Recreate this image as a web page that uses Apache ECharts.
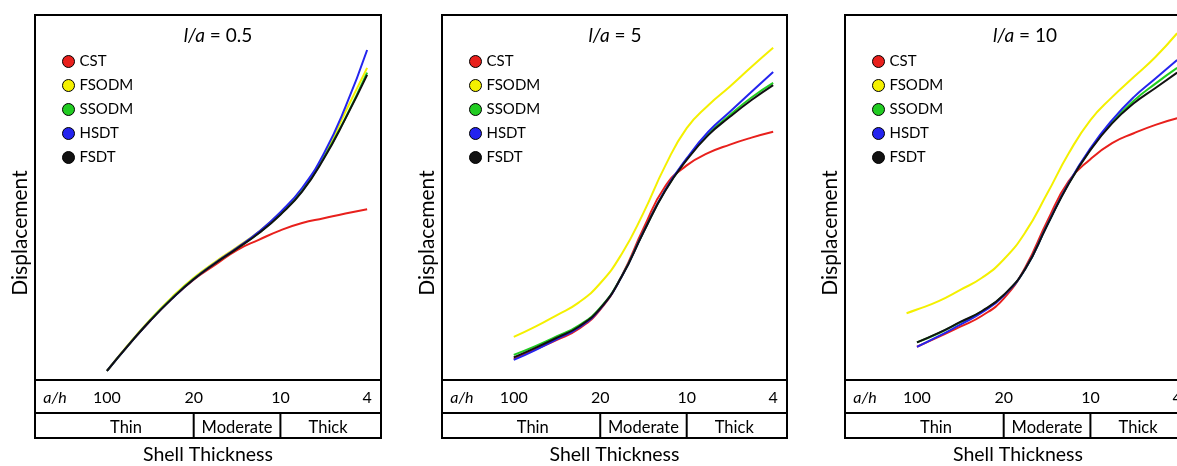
<!DOCTYPE html>
<html>
<head>
<meta charset="utf-8">
<script src="https://cdn.jsdelivr.net/npm/echarts@6/dist/echarts.min.js"></script>
<style>
  html, body { margin: 0; padding: 0; background: #fff; overflow: hidden; }
  #chart { width: 1200px; height: 466px; }
</style>
</head>
<body>
<div id="chart"></div>
<script>
// a/h tick labels, evenly spaced along the thickness axis
const ahTicks = ["100", "20", "10", "4"];
const thicknessClasses = ["Thin", "Moderate", "Thick"];
const classPos = [0.22, 1.5, 2.55];
const methods = ["CST", "FSODM", "SSODM", "HSDT", "FSDT"];
const ratios = ["0.5", "5", "10"];
const xSteps = [0, 0.25, 0.5, 0.75, 1, 1.25, 1.5, 1.75, 2, 2.25, 2.5, 2.75, 3];
const xStepsLong = [-0.12, 0, 0.25, 0.5, 0.75, 1, 1.25, 1.5, 1.75, 2, 2.25, 2.5, 2.75, 3];

// l/a = 0.5
const cst05   = [2.5, 9.6, 16.3, 22.3, 27.5, 31.6, 35.6, 38.4, 41.0, 43.0, 44.3, 45.6, 46.8];
const fsodm05 = [2.5, 9.8, 16.6, 22.7, 28.0, 32.4, 36.4, 40.6, 45.8, 52.2, 61.3, 73.5, 85.5];
const ssodm05 = [2.5, 9.6, 16.4, 22.4, 27.7, 32.1, 36.1, 40.3, 45.4, 51.8, 60.9, 71.8, 84.2];
const hsdt05  = [2.5, 9.6, 16.3, 22.3, 27.6, 32.1, 36.2, 40.6, 46.0, 52.6, 62.0, 74.8, 90.4];
const fsdt05  = [2.5, 9.6, 16.3, 22.3, 27.6, 32.0, 36.0, 40.2, 45.3, 51.6, 60.6, 71.6, 83.6];

// l/a = 5
const cst5   = [5.8, 8.4, 11.0, 14.0, 19.3, 28.6, 41.5, 53.0, 58.8, 62.2, 64.5, 66.4, 68.0];
const fsodm5 = [11.8, 14.6, 17.8, 21.2, 26.5, 34.6, 45.8, 58.6, 69.0, 75.3, 80.4, 85.8, 91.0];
const ssodm5 = [6.9, 9.3, 12.0, 14.9, 19.8, 28.5, 40.6, 51.9, 60.5, 67.4, 72.6, 77.4, 81.4];
const hsdt5  = [5.5, 8.2, 11.2, 14.3, 19.5, 28.4, 40.6, 52.0, 60.7, 68.0, 73.5, 79.0, 84.4];
const fsdt5  = [6.2, 8.8, 11.6, 14.6, 19.6, 28.4, 40.5, 51.8, 60.3, 67.1, 72.1, 76.7, 80.8];

// l/a = 10 (FSODM starts a little earlier, uses xStepsLong)
const cst10   = [9.1, 11.8, 14.6, 17.6, 22.3, 30.9, 43.4, 54.5, 60.5, 64.9, 67.6, 69.9, 71.7];
const fsodm10 = [18.3, 19.3, 21.6, 24.7, 28.0, 33.0, 40.5, 51.0, 62.1, 71.2, 77.5, 83.0, 88.5, 95.0];
const ssodm10 = [10.3, 12.8, 15.8, 18.8, 23.2, 30.5, 42.4, 53.9, 63.2, 70.6, 76.5, 81.2, 85.5];
const hsdt10  = [9.1, 12.0, 15.2, 18.5, 23.1, 30.5, 42.4, 54.0, 63.5, 71.2, 77.5, 82.6, 87.7];
const fsdt10  = [10.3, 12.9, 15.9, 18.9, 23.3, 30.5, 42.3, 53.8, 63.0, 70.3, 75.8, 80.0, 84.2];

const panels = [
  { ratio: ratios[0], data: [cst05, fsodm05, ssodm05, hsdt05, fsdt05], xs: [xSteps, xSteps, xSteps, xSteps, xSteps] },
  { ratio: ratios[1], data: [cst5, fsodm5, ssodm5, hsdt5, fsdt5], xs: [xSteps, xSteps, xSteps, xSteps, xSteps] },
  { ratio: ratios[2], data: [cst10, fsodm10, ssodm10, hsdt10, fsdt10], xs: [xSteps, xStepsLong, xSteps, xSteps, xSteps] },
];

const colors = ["#e8201c", "#f4f000", "#22cc22", "#2424ee", "#111111"];
const FONT = "Lato";
const gridLeft = [35, 442, 845];
const gridWidth = [346, 345, 346];
const titleX = [213, 610, 1020];
const plotTop = 15, plotBottom = 380, rowMid = 413, tableBottom = 438;

const chart = echarts.init(document.getElementById("chart"));

const grid = [], xAxis = [], yAxis = [], series = [], legend = [], title = [];
panels.forEach((p, i) => {
  grid.push({
    left: gridLeft[i], width: gridWidth[i], top: plotTop, bottom: 466 - plotBottom,
    containLabel: false, outerBoundsMode: "none",
    show: true, borderColor: "#000", borderWidth: 2, backgroundColor: "transparent",
  });
  xAxis.push({
    type: "value", gridIndex: i, min: -0.83, max: 3.16,
    axisLine: { show: false }, axisTick: { show: false }, splitLine: { show: false },
    axisLabel: {
      customValues: [-0.6, 0, 1, 2, 3], margin: 10, color: "#000", fontSize: 16, fontFamily: FONT,
      formatter: (v) => (v < 0 ? "{i|a/h}" : ahTicks[Math.round(v)]),
      rich: { i: { fontStyle: "italic", fontSize: 16, fontFamily: FONT, color: "#000" } },
    },
    name: "Shell Thickness", nameLocation: "middle", nameGap: 65,
    nameTextStyle: { fontSize: 19.5, fontFamily: FONT, color: "#000" },
  });
  xAxis.push({
    type: "value", gridIndex: i, min: -0.83, max: 3.16, position: "bottom", offset: 33,
    axisLine: { show: false }, axisTick: { show: false }, splitLine: { show: false },
    axisLabel: {
      customValues: classPos, margin: 6, color: "#000", fontSize: 16.5, fontFamily: FONT,
      formatter: (v) => thicknessClasses[classPos.indexOf(v)],
    },
  });
  yAxis.push({
    type: "value", gridIndex: i, min: 0, max: 100,
    axisLine: { show: false }, axisTick: { show: false }, axisLabel: { show: false }, splitLine: { show: false },
  });
  methods.forEach((m, k) => {
    series.push({
      name: m, type: "line", xAxisIndex: 2 * i, yAxisIndex: i,
      smooth: 0.5, showSymbol: false, silent: true,
      color: colors[k],
      lineStyle: { width: 2, color: colors[k] },
      data: p.data[k].map((v, j) => [p.xs[k][j], v]),
    });
  });
  legend.push({
    data: methods, orient: "vertical", left: gridLeft[i] + 22, top: 49,
    icon: "circle", itemWidth: 12, itemHeight: 12, itemGap: 9,
    itemStyle: { borderColor: "#000", borderWidth: 1 },
    textStyle: { fontSize: 15, fontFamily: FONT, color: "#000", lineHeight: 12 },
  });
  title.push({
    text: "{i|l/a} = " + p.ratio, left: titleX[i], top: 21, textAlign: "center",
    textStyle: {
      fontSize: 19, fontWeight: "normal", fontFamily: FONT, color: "#000",
      rich: { i: { fontStyle: "italic", fontSize: 19, fontFamily: FONT, color: "#000" } },
    },
  });
});

chart.setOption({
  animation: false,
  backgroundColor: "#fff",
  title, legend, grid, xAxis, yAxis, series,
});

// table under each plot: a/h row and thickness class row
const graphic = [];
panels.forEach((p, i) => {
  const L = gridLeft[i], W = gridWidth[i];
  const d1 = chart.convertToPixel({ xAxisIndex: 2 * i }, 1);
  const d2 = chart.convertToPixel({ xAxisIndex: 2 * i }, 2);
  graphic.push(
    { type: "rect", shape: { x: L, y: plotBottom, width: W, height: tableBottom - plotBottom },
      style: { fill: "none", stroke: "#000", lineWidth: 2 } },
    { type: "line", shape: { x1: L, y1: rowMid, x2: L + W, y2: rowMid }, style: { stroke: "#000", lineWidth: 2 } },
    { type: "line", shape: { x1: d1, y1: rowMid, x2: d1, y2: tableBottom }, style: { stroke: "#000", lineWidth: 2 } },
    { type: "line", shape: { x1: d2, y1: rowMid, x2: d2, y2: tableBottom }, style: { stroke: "#000", lineWidth: 2 } },
    { type: "text", x: L - 15, y: 233, rotation: Math.PI / 2,
      style: { text: "Displacement", fontSize: 21, fontFamily: FONT, fill: "#000", align: "center", verticalAlign: "middle" } }
  );
});
chart.setOption({ graphic });

window.addEventListener("resize", () => chart.resize());
</script>
</body>
</html>
